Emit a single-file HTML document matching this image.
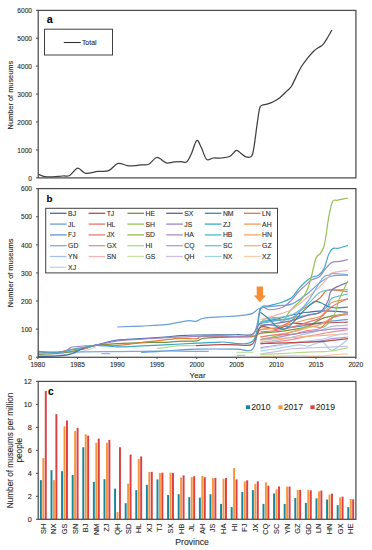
<!DOCTYPE html><html><head><meta charset="utf-8"><style>html,body{margin:0;padding:0;background:#fff;}svg{display:block;}text{font-family:"Liberation Sans", sans-serif;stroke:#333;stroke-width:0.1px;}</style></head><body>
<svg width="372" height="550" viewBox="0 0 372 550">
<rect x="0" y="0" width="372" height="550" fill="#fff"/>
<path d="M38.2,174.2 C39.63,174.65 42.68,176.6 46.8,176.9 C50.92,177.2 59.1,176.23 62.9,176 C66.7,175.77 67.13,176.8 69.6,175.5 C72.07,174.2 75.02,168.55 77.7,168.2 C80.38,167.85 82.35,172.87 85.7,173.4 C89.05,173.93 93.98,171.85 97.8,171.4 C101.62,170.95 105.23,172.03 108.6,170.7 C111.97,169.37 114.87,164.25 118,163.4 C121.13,162.55 124.4,165.23 127.4,165.6 C130.4,165.97 133.77,165.73 136,165.6 C138.23,165.47 138.67,165.03 140.8,164.8 C142.93,164.57 146.12,165.42 148.8,164.2 C151.48,162.98 153.98,157.72 156.9,157.5 C159.82,157.28 163.62,162.13 166.3,162.9 C168.98,163.67 170.55,162.33 173,162.1 C175.45,161.87 178.75,161.5 181,161.5 C183.25,161.5 184.78,163.35 186.5,162.1 C188.22,160.85 189.6,157.58 191.3,154 C193,150.42 195.05,141.72 196.7,140.6 C198.35,139.48 199.55,144.17 201.2,147.3 C202.85,150.43 204.58,157.62 206.6,159.4 C208.62,161.18 210.83,158.23 213.3,158 C215.77,157.77 218.62,158.3 221.4,158 C224.18,157.7 227.52,157.47 230,156.2 C232.48,154.93 234.45,150.83 236.3,150.4 C238.15,149.97 239.48,152.52 241.1,153.6 C242.72,154.68 244.25,156.47 246,156.9 C247.75,157.33 250.27,157.87 251.6,156.2 C252.93,154.53 253.05,152.48 254,146.9 C254.95,141.32 256.35,129.17 257.3,122.7 C258.25,116.23 258.9,111.02 259.7,108.1 C260.5,105.18 260.9,105.87 262.1,105.2 C263.3,104.53 265.02,104.68 266.9,104.1 C268.78,103.52 271.25,102.77 273.4,101.7 C275.55,100.63 277.62,99.42 279.8,97.7 C281.98,95.98 284.58,93.27 286.5,91.4 C288.42,89.53 289.7,88.92 291.3,86.5 C292.9,84.08 294.48,80.12 296.1,76.9 C297.72,73.68 299.12,70.3 301,67.2 C302.88,64.1 305.25,61 307.4,58.3 C309.55,55.6 312.02,52.8 313.9,51 C315.78,49.2 317.23,48.52 318.7,47.5 C320.17,46.48 321.35,46.33 322.7,44.9 C324.05,43.47 325.27,41.37 326.8,38.9 C328.33,36.43 331.05,31.57 331.9,30.1" fill="none" stroke="#404040" stroke-width="1.25" stroke-linejoin="round"/>
<rect x="38.2" y="10.4" width="317.7" height="167.5" fill="none" stroke="#4d4d4d" stroke-width="1.25"/>
<line x1="36" y1="177.8" x2="38.2" y2="177.8" stroke="#4d4d4d" stroke-width="1"/>
<text x="32" y="180.5" font-size="6.6" text-anchor="end" font-weight="normal" fill="#262626" >0</text>
<line x1="36" y1="149.88" x2="38.2" y2="149.88" stroke="#4d4d4d" stroke-width="1"/>
<text x="32" y="152.58" font-size="6.6" text-anchor="end" font-weight="normal" fill="#262626" >1000</text>
<line x1="36" y1="121.97" x2="38.2" y2="121.97" stroke="#4d4d4d" stroke-width="1"/>
<text x="32" y="124.67" font-size="6.6" text-anchor="end" font-weight="normal" fill="#262626" >2000</text>
<line x1="36" y1="94.05" x2="38.2" y2="94.05" stroke="#4d4d4d" stroke-width="1"/>
<text x="32" y="96.75" font-size="6.6" text-anchor="end" font-weight="normal" fill="#262626" >3000</text>
<line x1="36" y1="66.13" x2="38.2" y2="66.13" stroke="#4d4d4d" stroke-width="1"/>
<text x="32" y="68.83" font-size="6.6" text-anchor="end" font-weight="normal" fill="#262626" >4000</text>
<line x1="36" y1="38.22" x2="38.2" y2="38.22" stroke="#4d4d4d" stroke-width="1"/>
<text x="32" y="40.92" font-size="6.6" text-anchor="end" font-weight="normal" fill="#262626" >5000</text>
<line x1="36" y1="10.3" x2="38.2" y2="10.3" stroke="#4d4d4d" stroke-width="1"/>
<text x="32" y="13" font-size="6.6" text-anchor="end" font-weight="normal" fill="#262626" >6000</text>
<text x="46.8" y="22.6" font-size="10.8" text-anchor="start" font-weight="bold" fill="#000" >a</text>
<rect x="44.5" y="29.2" width="68" height="25.8" fill="#fff" stroke="#404040" stroke-width="1"/>
<line x1="63.8" y1="42.5" x2="80.8" y2="42.5" stroke="#333" stroke-width="1.1"/>
<text x="81.9" y="44.7" font-size="6.95" text-anchor="start" font-weight="normal" fill="#262626" >Total</text>
<text transform="translate(13.3,95.1) rotate(-90)" font-size="7.4" text-anchor="middle" fill="#262626">Number of museums</text>
<path d="M37.8,355.8 C41.77,355.66 55.69,355.33 61.65,354.95 C67.61,354.58 69.6,354.3 73.57,353.55 C77.55,352.8 81.79,351.54 85.5,350.46 C89.21,349.38 94.11,347.65 95.83,347.09" fill="none" stroke="#c3d0ee" stroke-width="1.2" stroke-linejoin="round" stroke-linecap="butt"/>
<path d="M63.24,352.14 C66.95,352.1 76.49,351.96 85.5,351.86 C94.51,351.77 108.03,351.68 117.3,351.58 C126.57,351.49 133.2,351.4 141.15,351.3 C149.1,351.21 157.05,351.02 165,351.02 C172.95,351.02 181.56,351.26 188.85,351.3 C196.14,351.35 205.41,351.3 208.73,351.3" fill="none" stroke="#7eabdf" stroke-width="1.2" stroke-linejoin="round" stroke-linecap="butt"/>
<path d="M101.4,353.61 C102.86,353.61 108.69,353.61 110.14,353.61" fill="none" stroke="#8fb3e0" stroke-width="1.2" stroke-linejoin="round" stroke-linecap="butt"/>
<path d="M157.05,348.49 C159.17,348.21 165.79,347.28 169.77,346.81 C173.74,346.34 176.53,345.87 180.9,345.69 C185.27,345.5 193.49,345.69 196.01,345.69" fill="none" stroke="#b6da8c" stroke-width="1.2" stroke-linejoin="round" stroke-linecap="butt"/>
<path d="M236.55,352.31 C237.88,352.31 241.72,352.29 244.5,352.31 C247.28,352.33 251.79,352.41 253.24,352.43" fill="none" stroke="#c8e2a9" stroke-width="1.2" stroke-linejoin="round" stroke-linecap="butt"/>
<path d="M236.55,355.4 C238.01,355.4 243.84,355.4 245.29,355.4" fill="none" stroke="#a7c0e6" stroke-width="1.2" stroke-linejoin="round" stroke-linecap="butt"/>
<path d="M37.8,354.39 C42.04,354.16 56.35,353.76 63.24,352.99 C70.13,352.22 75.43,350.51 79.14,349.76 C82.85,349.01 82.72,349.22 85.5,348.49 C88.28,347.77 90.53,346.2 95.83,345.4 C101.13,344.61 109.75,344.19 117.3,343.72 C124.85,343.25 133.2,342.83 141.15,342.6 C149.1,342.36 158.38,342.55 165,342.32 C171.62,342.08 175.6,341.43 180.9,341.19 C186.2,340.96 192.83,341.43 196.8,340.91 C200.78,340.4 198.12,338.76 204.75,338.1 C211.38,337.45 228.6,337.21 236.55,336.98 C244.5,336.75 248.47,337.31 252.45,336.7 C256.42,336.09 256.42,334.12 260.4,333.33 C264.38,332.53 271,332.53 276.3,331.93 C281.6,331.32 286.9,330.61 292.2,329.68 C297.5,328.74 302.8,328.27 308.1,326.31 C313.4,324.34 317.38,319.99 324,317.88 C330.62,315.78 343.88,314.37 347.85,313.67" fill="none" stroke="#77933c" stroke-width="1.2" stroke-linejoin="round" stroke-linecap="butt"/>
<path d="M37.8,351.02 C40.45,351.35 48.4,353.2 53.7,352.99 C59,352.78 64.3,350.51 69.6,349.76 C74.9,349.01 81.13,349.22 85.5,348.49 C89.87,347.77 90.53,345.92 95.83,345.4 C101.13,344.89 109.75,345.87 117.3,345.4 C124.85,344.94 133.2,343.53 141.15,342.6 C149.1,341.66 158.38,340.49 165,339.79 C171.62,339.09 175.6,338.57 180.9,338.38 C186.2,338.2 192.83,339.04 196.8,338.66 C200.78,338.29 195.47,336.56 204.75,336.14 C214.03,335.72 243.17,337.21 252.45,336.14 C261.72,335.06 256.42,331.08 260.4,329.68 C264.38,328.27 271,329.26 276.3,327.71 C281.6,326.17 288.22,323.22 292.2,320.41 C296.18,317.6 297.5,313.25 300.15,310.86 C302.8,308.48 304.79,308.24 308.1,306.09 C311.41,303.94 316.71,300.61 320.03,297.94 C323.34,295.28 323.34,291.11 327.98,290.08 C332.61,289.05 344.54,291.49 347.85,291.77" fill="none" stroke="#e07b39" stroke-width="1.2" stroke-linejoin="round" stroke-linecap="butt"/>
<path d="M37.8,356.53 C40.45,356.45 48.4,356.43 53.7,356.08 C59,355.72 64.3,355.84 69.6,354.39 C74.9,352.94 81.13,348.92 85.5,347.37 C89.87,345.83 90.53,346.34 95.83,345.12 C101.13,343.91 109.75,341.15 117.3,340.07 C124.85,338.99 133.2,339.18 141.15,338.66 C149.1,338.15 158.38,337.49 165,336.98 C171.62,336.47 175.6,335.9 180.9,335.58 C186.2,335.25 187.53,335.15 196.8,335.01 C206.08,334.87 227.28,334.87 236.55,334.73 C245.83,334.59 248.47,336.14 252.45,334.17 C256.42,332.21 256.42,325.42 260.4,322.94 C264.38,320.46 271,320.64 276.3,319.29 C281.6,317.93 286.9,315.96 292.2,314.79 C297.5,313.62 302.8,312.92 308.1,312.27 C313.4,311.61 317.38,310.86 324,310.86 C330.62,310.86 343.88,312.03 347.85,312.27" fill="none" stroke="#3f6fa8" stroke-width="1.2" stroke-linejoin="round" stroke-linecap="butt"/>
<path d="M37.8,352.99 C42.04,352.8 57.68,352.8 63.24,351.86 C68.81,350.93 67.48,348.35 71.19,347.37 C74.9,346.39 81.39,346.34 85.5,345.97 C89.61,345.59 90.53,345.97 95.83,345.12 C101.13,344.28 109.75,341.89 117.3,340.91 C124.85,339.93 133.2,339.79 141.15,339.23 C149.1,338.66 158.38,337.92 165,337.54 C171.62,337.17 175.6,337.17 180.9,336.98 C186.2,336.79 190.18,336.61 196.8,336.42 C203.43,336.23 211.37,336.14 220.65,335.86 C229.92,335.58 245.82,339.32 252.45,334.73 C259.07,330.15 257.62,312.5 260.4,308.33 C263.18,304.17 265.43,309.93 269.14,309.74 C272.85,309.55 279.08,308.66 282.66,307.21 C286.24,305.76 287.96,303.61 290.61,301.03 C293.26,298.46 296.17,294.29 298.56,291.77 C300.94,289.24 302.8,287.83 304.92,285.87 C307.04,283.9 308.9,281.47 311.28,279.97 C313.67,278.47 316.98,278.61 319.23,276.88 C321.48,275.15 322.67,272.01 324.79,269.58 C326.91,267.15 329.43,263.64 331.95,262.28 C334.47,260.92 337.25,261.9 339.9,261.44 C342.55,260.97 346.53,259.8 347.85,259.47" fill="none" stroke="#9f86c6" stroke-width="1.2" stroke-linejoin="round" stroke-linecap="butt"/>
<path d="M141.15,352.31 C143.8,352.19 153.08,351.8 157.05,351.58 C161.03,351.37 161.03,351.3 165,351.02 C168.97,350.74 175.6,350.23 180.9,349.9 C186.2,349.57 187.53,349.2 196.8,349.06 C206.08,348.92 227.28,349.01 236.55,349.06 C245.83,349.1 248.47,353.13 252.45,349.34 C256.42,345.55 256.42,330.24 260.4,326.31 C264.38,322.38 271,325.61 276.3,325.75 C281.6,325.89 286.9,327.29 292.2,327.15 C297.5,327.01 302.8,325.75 308.1,324.9 C313.4,324.06 317.38,323.03 324,322.1 C330.62,321.16 343.88,319.76 347.85,319.29" fill="none" stroke="#5d99d6" stroke-width="1.2" stroke-linejoin="round" stroke-linecap="butt"/>
<path d="M196.01,345.69 C200.11,345.5 213.89,344.7 220.65,344.56 C227.41,344.42 231.25,344.94 236.55,344.84 C241.85,344.75 248.47,346.95 252.45,344 C256.42,341.05 256.42,329.63 260.4,327.15 C264.38,324.67 271,329.73 276.3,329.12 C281.6,328.51 286.9,324.34 292.2,323.5 C297.5,322.66 302.8,324.16 308.1,324.06 C313.4,323.97 317.38,323.27 324,322.94 C330.62,322.61 343.88,322.24 347.85,322.1" fill="none" stroke="#b94a4a" stroke-width="1.2" stroke-linejoin="round" stroke-linecap="butt"/>
<path d="M37.8,351.86 C41.77,351.86 55.29,352.43 61.65,351.86 C68.01,351.3 71.98,349.24 75.96,348.49 C79.93,347.75 82.19,347.89 85.5,347.37 C88.81,346.86 90.53,345.5 95.83,345.4 C101.13,345.31 109.75,346.72 117.3,346.81 C124.85,346.9 133.2,346.29 141.15,345.97 C149.1,345.64 155.72,345.31 165,344.84 C174.28,344.38 187.53,343.63 196.8,343.16 C206.08,342.69 211.37,342.36 220.65,342.03 C229.92,341.71 245.82,346.62 252.45,341.19 C259.07,335.76 257.75,315.36 260.4,309.46 C263.05,303.56 265.17,306.88 268.35,305.81 C271.53,304.73 275.64,304.36 279.48,303 C283.32,301.64 288.23,300 291.41,297.66 C294.59,295.32 296.31,291.53 298.56,288.96 C300.81,286.38 302.8,284.14 304.92,282.22 C307.04,280.3 309.03,278.61 311.28,277.44 C313.53,276.27 316.31,276.65 318.43,275.2 C320.55,273.75 322.28,272.25 324,268.74 C325.72,265.23 327.31,257.5 328.77,254.13 C330.23,250.76 331.15,249.5 332.74,248.52 C334.33,247.53 335.79,248.75 338.31,248.24 C340.83,247.72 346.26,245.9 347.85,245.43" fill="none" stroke="#3aa9c5" stroke-width="1.2" stroke-linejoin="round" stroke-linecap="butt"/>
<path d="M117.3,327.01 C121.27,326.85 133.07,326.41 141.15,326.03 C149.23,325.64 158.11,325.58 165.79,324.71 C173.48,323.84 182.22,321.36 187.26,320.8 C192.29,320.25 193.62,321.74 196.01,321.39 C198.39,321.05 199.18,319.39 201.57,318.73 C203.95,318.06 205.81,317.78 210.32,317.41 C214.82,317.03 222.9,316.87 228.6,316.48 C234.3,316.09 240.53,315.59 244.5,315.07 C248.47,314.56 249.8,314.56 252.45,313.39 C255.1,312.22 256.42,309.32 260.4,308.05 C264.38,306.79 271,306.51 276.3,305.81 C281.6,305.11 286.9,305.95 292.2,303.84 C297.5,301.74 303.46,296.73 308.1,293.17 C312.74,289.61 316.05,285.35 320.03,282.5 C324,279.64 327.31,277.26 331.95,276.04 C336.59,274.82 345.2,275.34 347.85,275.2" fill="none" stroke="#6b9fd6" stroke-width="1.2" stroke-linejoin="round" stroke-linecap="butt"/>
<path d="M260.4,326.31 C261.06,325.14 261.73,320.69 264.38,319.29 C267.02,317.88 273.25,317.46 276.3,317.88 C279.35,318.3 280.41,322.94 282.66,321.81 C284.91,320.69 286.64,314.93 289.82,311.14 C293,307.35 298.83,302.62 301.74,299.07 C304.66,295.51 305.72,293.5 307.31,289.8 C308.9,286.1 309.82,282.17 311.28,276.88 C312.74,271.59 314.59,261.9 316.05,258.07 C317.51,254.23 318.7,255.82 320.03,253.85 C321.35,251.89 322.94,249.73 324,246.27 C325.06,242.81 325.59,237.99 326.38,233.07 C327.18,228.16 327.71,222.07 328.77,216.78 C329.83,211.49 331.29,204.1 332.74,201.34 C334.2,198.58 335,200.78 337.52,200.21 C340.03,199.65 346.13,198.34 347.85,197.97" fill="none" stroke="#93c152" stroke-width="1.2" stroke-linejoin="round" stroke-linecap="butt"/>
<path d="M260.4,319.57 C263.05,318.82 271,316.81 276.3,315.07 C281.6,313.34 286.9,312.22 292.2,309.18 C297.5,306.14 303.46,300.61 308.1,296.82 C312.74,293.03 316.58,289.75 320.03,286.43 C323.47,283.11 326.65,279.18 328.77,276.88 C330.89,274.59 329.56,273.75 332.74,272.67 C335.92,271.59 345.33,270.8 347.85,270.42" fill="none" stroke="#f2b4b4" stroke-width="1.2" stroke-linejoin="round" stroke-linecap="butt"/>
<path d="M260.4,322.1 C263.05,321.77 271,320.83 276.3,320.13 C281.6,319.43 286.9,321.07 292.2,317.88 C297.5,314.7 303.07,307.63 308.1,301.03 C313.13,294.43 318.96,282.59 322.41,278.29 C325.85,273.98 326.91,275.99 328.77,275.2 C330.62,274.4 330.36,273.61 333.54,273.51 C336.72,273.42 345.47,274.45 347.85,274.63" fill="none" stroke="#7eabdf" stroke-width="1.2" stroke-linejoin="round" stroke-linecap="butt"/>
<path d="M260.4,322.1 C263.05,321.39 271,319.1 276.3,317.88 C281.6,316.67 286.9,317.13 292.2,314.79 C297.5,312.45 303.46,307.59 308.1,303.84 C312.74,300.1 316.05,294.67 320.03,292.33 C324,289.99 327.31,290.27 331.95,289.8 C336.59,289.33 345.2,289.57 347.85,289.52" fill="none" stroke="#6bc2d8" stroke-width="1.2" stroke-linejoin="round" stroke-linecap="butt"/>
<path d="M260.4,323.5 C263.05,323.03 271,321.63 276.3,320.69 C281.6,319.76 286.9,318.82 292.2,317.88 C297.5,316.95 303.46,315.92 308.1,315.07 C312.74,314.23 316.71,314.47 320.03,312.83 C323.34,311.19 325.99,307.68 327.98,305.25 C329.96,302.81 328.64,300.1 331.95,298.22 C335.26,296.35 345.2,294.71 347.85,294.01" fill="none" stroke="#52b6cf" stroke-width="1.2" stroke-linejoin="round" stroke-linecap="butt"/>
<path d="M260.4,325.75 C263.05,325.37 271,324.39 276.3,323.5 C281.6,322.61 286.9,321.81 292.2,320.41 C297.5,319.01 303.46,316.43 308.1,315.07 C312.74,313.72 316.71,314.61 320.03,312.27 C323.34,309.93 325.99,304.78 327.98,301.03 C329.96,297.29 328.64,292.94 331.95,289.8 C335.26,286.66 345.2,283.48 347.85,282.22" fill="none" stroke="#8a72b5" stroke-width="1.2" stroke-linejoin="round" stroke-linecap="butt"/>
<path d="M260.4,329.68 C263.05,329.35 271,328.74 276.3,327.71 C281.6,326.68 286.9,324.9 292.2,323.5 C297.5,322.1 303.46,320.46 308.1,319.29 C312.74,318.12 316.71,318.35 320.03,316.48 C323.34,314.61 325.99,310.39 327.98,308.05 C329.96,305.71 328.64,303.94 331.95,302.44 C335.26,300.94 345.2,299.63 347.85,299.07" fill="none" stroke="#f4995a" stroke-width="1.2" stroke-linejoin="round" stroke-linecap="butt"/>
<path d="M260.4,331.93 C263.05,331.69 271,331.32 276.3,330.52 C281.6,329.73 286.9,328.55 292.2,327.15 C297.5,325.75 303.46,323.64 308.1,322.1 C312.74,320.55 316.05,320.46 320.03,317.88 C324,315.31 327.31,309.88 331.95,306.65 C336.59,303.42 345.2,299.86 347.85,298.51" fill="none" stroke="#e07575" stroke-width="1.2" stroke-linejoin="round" stroke-linecap="butt"/>
<path d="M260.4,312.27 C261.72,313.3 265.7,316.1 268.35,318.44 C271,320.79 273.65,324.53 276.3,326.31 C278.95,328.09 281.6,329.58 284.25,329.12 C286.9,328.65 289.55,325.93 292.2,323.5 C294.85,321.07 297.5,317.32 300.15,314.51 C302.8,311.7 305.72,308.8 308.1,306.65 C310.48,304.5 312.34,302.25 314.46,301.59 C316.58,300.94 318.7,301.97 320.82,302.72 C322.94,303.47 325.06,305.25 327.18,306.09 C329.3,306.93 330.1,307.59 333.54,307.77 C336.99,307.96 345.47,307.31 347.85,307.21" fill="none" stroke="#2f8fae" stroke-width="1.2" stroke-linejoin="round" stroke-linecap="butt"/>
<path d="M260.4,339.51 C263.05,338.95 271,337.4 276.3,336.14 C281.6,334.87 286.9,333.56 292.2,331.93 C297.5,330.29 302.8,327.15 308.1,326.31 C313.4,325.47 319.63,328.84 324,326.87 C328.37,324.9 331.82,319.05 334.33,314.51 C336.85,309.97 336.85,305.25 339.11,299.63 C341.36,294.01 346.39,283.95 347.85,280.81" fill="none" stroke="#9bc15c" stroke-width="1.2" stroke-linejoin="round" stroke-linecap="butt"/>
<path d="M260.4,336.98 C263.05,336.61 271,335.58 276.3,334.73 C281.6,333.89 286.9,333.1 292.2,331.93 C297.5,330.75 303.46,328.93 308.1,327.71 C312.74,326.5 316.05,326.26 320.03,324.62 C324,322.99 327.31,319.8 331.95,317.88 C336.59,315.96 345.2,313.9 347.85,313.11" fill="none" stroke="#f7a466" stroke-width="1.2" stroke-linejoin="round" stroke-linecap="butt"/>
<path d="M260.4,336.98 C263.05,336.61 271,335.15 276.3,334.73 C281.6,334.31 286.9,335.15 292.2,334.45 C297.5,333.75 303.46,331.5 308.1,330.52 C312.74,329.54 316.05,330.66 320.03,328.56 C324,326.45 327.31,320.22 331.95,317.88 C336.59,315.54 345.2,315.07 347.85,314.51" fill="none" stroke="#e67d7d" stroke-width="1.2" stroke-linejoin="round" stroke-linecap="butt"/>
<path d="M260.4,342.03 C263.05,341.75 271,341.19 276.3,340.35 C281.6,339.51 286.9,338.15 292.2,336.98 C297.5,335.81 303.46,334.41 308.1,333.33 C312.74,332.25 316.05,331.69 320.03,330.52 C324,329.35 327.31,327.2 331.95,326.31 C336.59,325.42 345.2,325.37 347.85,325.19" fill="none" stroke="#a7c0e6" stroke-width="1.2" stroke-linejoin="round" stroke-linecap="butt"/>
<path d="M260.4,339.51 C263.05,339.18 271,338.38 276.3,337.54 C281.6,336.7 286.9,335.39 292.2,334.45 C297.5,333.52 303.46,332.58 308.1,331.93 C312.74,331.27 316.05,330.99 320.03,330.52 C324,330.05 327.31,329.49 331.95,329.12 C336.59,328.74 345.2,328.41 347.85,328.27" fill="none" stroke="#a68ece" stroke-width="1.2" stroke-linejoin="round" stroke-linecap="butt"/>
<path d="M260.4,344.28 C263.05,343.86 271,342.55 276.3,341.75 C281.6,340.96 286.9,340.44 292.2,339.51 C297.5,338.57 302.8,337.17 308.1,336.14 C313.4,335.11 320.02,334.03 324,333.33 C327.98,332.63 327.97,332.53 331.95,331.93 C335.93,331.32 345.2,330.05 347.85,329.68" fill="none" stroke="#eb8e8e" stroke-width="1.2" stroke-linejoin="round" stroke-linecap="butt"/>
<path d="M260.4,347.65 C263.05,347.28 271,346.15 276.3,345.4 C281.6,344.66 286.9,343.77 292.2,343.16 C297.5,342.55 302.8,342.22 308.1,341.75 C313.4,341.29 320.02,340.86 324,340.35 C327.98,339.84 327.97,339.23 331.95,338.66 C335.93,338.1 345.2,337.26 347.85,336.98" fill="none" stroke="#b39fd7" stroke-width="1.2" stroke-linejoin="round" stroke-linecap="butt"/>
<path d="M260.4,340.35 C263.05,340.07 271,339.13 276.3,338.66 C281.6,338.2 286.9,337.92 292.2,337.54 C297.5,337.17 302.8,336.79 308.1,336.42 C313.4,336.04 320.02,335.58 324,335.29 C327.98,335.01 327.97,334.92 331.95,334.73 C335.93,334.55 345.2,334.27 347.85,334.17" fill="none" stroke="#f9b17d" stroke-width="1.2" stroke-linejoin="round" stroke-linecap="butt"/>
<path d="M260.4,348.77 C263.05,348.31 271,346.9 276.3,345.97 C281.6,345.03 286.9,344 292.2,343.16 C297.5,342.32 302.8,341.61 308.1,340.91 C313.4,340.21 320.02,339.74 324,338.95 C327.98,338.15 327.97,337.07 331.95,336.14 C335.93,335.2 345.2,333.8 347.85,333.33" fill="none" stroke="#c3d0ee" stroke-width="1.2" stroke-linejoin="round" stroke-linecap="butt"/>
<path d="M260.4,351.02 C263.05,350.65 269.94,349.8 276.3,348.77 C282.66,347.75 293.13,345.31 298.56,344.84 C303.99,344.38 304.92,346.43 308.89,345.97 C312.87,345.5 318.57,341.33 322.41,342.03 C326.25,342.74 327.71,350.6 331.95,350.18 C336.19,349.76 345.2,341.29 347.85,339.51" fill="none" stroke="#9ed5e4" stroke-width="1.2" stroke-linejoin="round" stroke-linecap="butt"/>
<path d="M260.4,353.83 C263.05,353.46 271,352.43 276.3,351.58 C281.6,350.74 286.9,349.38 292.2,348.77 C297.5,348.17 302.8,348.17 308.1,347.93 C313.4,347.7 320.02,347.56 324,347.37 C327.98,347.18 327.97,347 331.95,346.81 C335.93,346.62 345.2,346.34 347.85,346.25" fill="none" stroke="#cbbde3" stroke-width="1.2" stroke-linejoin="round" stroke-linecap="butt"/>
<path d="M260.4,354.39 C263.05,354.3 271,354.06 276.3,353.83 C281.6,353.6 286.9,353.27 292.2,352.99 C297.5,352.71 302.8,352.38 308.1,352.14 C313.4,351.91 320.02,351.77 324,351.58 C327.98,351.4 327.97,351.68 331.95,351.02 C335.93,350.37 345.2,348.21 347.85,347.65" fill="none" stroke="#b6da8c" stroke-width="1.2" stroke-linejoin="round" stroke-linecap="butt"/>
<path d="M260.4,343.44 C263.05,343.39 271,343.3 276.3,343.16 C281.6,343.02 286.9,342.78 292.2,342.6 C297.5,342.41 302.8,342.22 308.1,342.03 C313.4,341.85 320.02,341.75 324,341.47 C327.98,341.19 327.97,340.82 331.95,340.35 C335.93,339.88 345.2,338.95 347.85,338.66" fill="none" stroke="#b94a4a" stroke-width="1.2" stroke-linejoin="round" stroke-linecap="butt"/>
<path d="M260.4,356.36 C263.05,356.31 271,356.22 276.3,356.08 C281.6,355.94 284.91,355.51 292.2,355.51 C299.49,355.51 313.4,356.17 320.03,356.08 C326.65,355.98 327.31,355.33 331.95,354.95 C336.59,354.58 345.2,354.02 347.85,353.83" fill="none" stroke="#fbcaa6" stroke-width="1.2" stroke-linejoin="round" stroke-linecap="butt"/>
<rect x="38.2" y="188.6" width="317.7" height="168.70000000000002" fill="none" stroke="#4d4d4d" stroke-width="1.25"/>
<line x1="36" y1="357.2" x2="38.2" y2="357.2" stroke="#4d4d4d" stroke-width="1"/>
<text x="32" y="359.9" font-size="6.6" text-anchor="end" font-weight="normal" fill="#262626" >0</text>
<line x1="36" y1="329.12" x2="38.2" y2="329.12" stroke="#4d4d4d" stroke-width="1"/>
<text x="32" y="331.82" font-size="6.6" text-anchor="end" font-weight="normal" fill="#262626" >100</text>
<line x1="36" y1="301.03" x2="38.2" y2="301.03" stroke="#4d4d4d" stroke-width="1"/>
<text x="32" y="303.73" font-size="6.6" text-anchor="end" font-weight="normal" fill="#262626" >200</text>
<line x1="36" y1="272.95" x2="38.2" y2="272.95" stroke="#4d4d4d" stroke-width="1"/>
<text x="32" y="275.65" font-size="6.6" text-anchor="end" font-weight="normal" fill="#262626" >300</text>
<line x1="36" y1="244.87" x2="38.2" y2="244.87" stroke="#4d4d4d" stroke-width="1"/>
<text x="32" y="247.57" font-size="6.6" text-anchor="end" font-weight="normal" fill="#262626" >400</text>
<line x1="36" y1="216.78" x2="38.2" y2="216.78" stroke="#4d4d4d" stroke-width="1"/>
<text x="32" y="219.48" font-size="6.6" text-anchor="end" font-weight="normal" fill="#262626" >500</text>
<line x1="36" y1="188.7" x2="38.2" y2="188.7" stroke="#4d4d4d" stroke-width="1"/>
<text x="32" y="191.4" font-size="6.6" text-anchor="end" font-weight="normal" fill="#262626" >600</text>
<line x1="37.8" y1="357.2" x2="37.8" y2="359.0" stroke="#4d4d4d" stroke-width="1"/>
<text x="37.8" y="366.7" font-size="6.6" text-anchor="middle" font-weight="normal" fill="#262626" >1980</text>
<line x1="77.55" y1="357.2" x2="77.55" y2="359.0" stroke="#4d4d4d" stroke-width="1"/>
<text x="77.55" y="366.7" font-size="6.6" text-anchor="middle" font-weight="normal" fill="#262626" >1985</text>
<line x1="117.3" y1="357.2" x2="117.3" y2="359.0" stroke="#4d4d4d" stroke-width="1"/>
<text x="117.3" y="366.7" font-size="6.6" text-anchor="middle" font-weight="normal" fill="#262626" >1990</text>
<line x1="157.05" y1="357.2" x2="157.05" y2="359.0" stroke="#4d4d4d" stroke-width="1"/>
<text x="157.05" y="366.7" font-size="6.6" text-anchor="middle" font-weight="normal" fill="#262626" >1995</text>
<line x1="196.8" y1="357.2" x2="196.8" y2="359.0" stroke="#4d4d4d" stroke-width="1"/>
<text x="196.8" y="366.7" font-size="6.6" text-anchor="middle" font-weight="normal" fill="#262626" >2000</text>
<line x1="236.55" y1="357.2" x2="236.55" y2="359.0" stroke="#4d4d4d" stroke-width="1"/>
<text x="236.55" y="366.7" font-size="6.6" text-anchor="middle" font-weight="normal" fill="#262626" >2005</text>
<line x1="276.3" y1="357.2" x2="276.3" y2="359.0" stroke="#4d4d4d" stroke-width="1"/>
<text x="276.3" y="366.7" font-size="6.6" text-anchor="middle" font-weight="normal" fill="#262626" >2010</text>
<line x1="316.05" y1="357.2" x2="316.05" y2="359.0" stroke="#4d4d4d" stroke-width="1"/>
<text x="316.05" y="366.7" font-size="6.6" text-anchor="middle" font-weight="normal" fill="#262626" >2015</text>
<line x1="355.8" y1="357.2" x2="355.8" y2="359.0" stroke="#4d4d4d" stroke-width="1"/>
<text x="355.8" y="366.7" font-size="6.6" text-anchor="middle" font-weight="normal" fill="#262626" >2020</text>
<text x="189.6" y="378.4" font-size="7.9" text-anchor="start" font-weight="normal" fill="#262626" >Year</text>
<text x="46.4" y="201.9" font-size="9.8" text-anchor="start" font-weight="bold" fill="#000" >b</text>
<text transform="translate(13.3,272.9) rotate(-90)" font-size="7.4" text-anchor="middle" fill="#262626">Number of museums</text>
<rect x="45.7" y="208.3" width="231.8" height="64.6" fill="#fff" stroke="#404040" stroke-width="1"/>
<line x1="50" y1="213.3" x2="66.6" y2="213.3" stroke="#3f6fa8" stroke-width="1.3"/>
<text x="68.1" y="215.8" font-size="6.8" text-anchor="start" font-weight="normal" fill="#262626" >BJ</text>
<line x1="50" y1="224.1" x2="66.6" y2="224.1" stroke="#6b9fd6" stroke-width="1.3"/>
<text x="68.1" y="226.6" font-size="6.8" text-anchor="start" font-weight="normal" fill="#262626" >JL</text>
<line x1="50" y1="234.9" x2="66.6" y2="234.9" stroke="#5d99d6" stroke-width="1.3"/>
<text x="68.1" y="237.4" font-size="6.8" text-anchor="start" font-weight="normal" fill="#262626" >FJ</text>
<line x1="50" y1="245.7" x2="66.6" y2="245.7" stroke="#7eabdf" stroke-width="1.3"/>
<text x="68.1" y="248.2" font-size="6.8" text-anchor="start" font-weight="normal" fill="#262626" >GD</text>
<line x1="50" y1="256.5" x2="66.6" y2="256.5" stroke="#a7c0e6" stroke-width="1.3"/>
<text x="68.1" y="259" font-size="6.8" text-anchor="start" font-weight="normal" fill="#262626" >YN</text>
<line x1="50" y1="267.3" x2="66.6" y2="267.3" stroke="#c3d0ee" stroke-width="1.3"/>
<text x="68.1" y="269.8" font-size="6.8" text-anchor="start" font-weight="normal" fill="#262626" >XJ</text>
<line x1="88.6" y1="213.3" x2="105.2" y2="213.3" stroke="#b94a4a" stroke-width="1.3"/>
<text x="106.7" y="215.8" font-size="6.8" text-anchor="start" font-weight="normal" fill="#262626" >TJ</text>
<line x1="88.6" y1="224.1" x2="105.2" y2="224.1" stroke="#e07575" stroke-width="1.3"/>
<text x="106.7" y="226.6" font-size="6.8" text-anchor="start" font-weight="normal" fill="#262626" >HL</text>
<line x1="88.6" y1="234.9" x2="105.2" y2="234.9" stroke="#e67d7d" stroke-width="1.3"/>
<text x="106.7" y="237.4" font-size="6.8" text-anchor="start" font-weight="normal" fill="#262626" >JX</text>
<line x1="88.6" y1="245.7" x2="105.2" y2="245.7" stroke="#eb8e8e" stroke-width="1.3"/>
<text x="106.7" y="248.2" font-size="6.8" text-anchor="start" font-weight="normal" fill="#262626" >GX</text>
<line x1="88.6" y1="256.5" x2="105.2" y2="256.5" stroke="#f2b4b4" stroke-width="1.3"/>
<text x="106.7" y="259" font-size="6.8" text-anchor="start" font-weight="normal" fill="#262626" >SN</text>
<line x1="127.4" y1="213.3" x2="144" y2="213.3" stroke="#77933c" stroke-width="1.3"/>
<text x="145.5" y="215.8" font-size="6.8" text-anchor="start" font-weight="normal" fill="#262626" >HE</text>
<line x1="127.4" y1="224.1" x2="144" y2="224.1" stroke="#9bc15c" stroke-width="1.3"/>
<text x="145.5" y="226.6" font-size="6.8" text-anchor="start" font-weight="normal" fill="#262626" >SH</text>
<line x1="127.4" y1="234.9" x2="144" y2="234.9" stroke="#93c152" stroke-width="1.3"/>
<text x="145.5" y="237.4" font-size="6.8" text-anchor="start" font-weight="normal" fill="#262626" >SD</text>
<line x1="127.4" y1="245.7" x2="144" y2="245.7" stroke="#b6da8c" stroke-width="1.3"/>
<text x="145.5" y="248.2" font-size="6.8" text-anchor="start" font-weight="normal" fill="#262626" >HI</text>
<line x1="127.4" y1="256.5" x2="144" y2="256.5" stroke="#c8e2a9" stroke-width="1.3"/>
<text x="145.5" y="259" font-size="6.8" text-anchor="start" font-weight="normal" fill="#262626" >GS</text>
<line x1="166.2" y1="213.3" x2="182.8" y2="213.3" stroke="#6a5a9c" stroke-width="1.3"/>
<text x="184.3" y="215.8" font-size="6.8" text-anchor="start" font-weight="normal" fill="#262626" >SX</text>
<line x1="166.2" y1="224.1" x2="182.8" y2="224.1" stroke="#9f86c6" stroke-width="1.3"/>
<text x="184.3" y="226.6" font-size="6.8" text-anchor="start" font-weight="normal" fill="#262626" >JS</text>
<line x1="166.2" y1="234.9" x2="182.8" y2="234.9" stroke="#a68ece" stroke-width="1.3"/>
<text x="184.3" y="237.4" font-size="6.8" text-anchor="start" font-weight="normal" fill="#262626" >HA</text>
<line x1="166.2" y1="245.7" x2="182.8" y2="245.7" stroke="#b39fd7" stroke-width="1.3"/>
<text x="184.3" y="248.2" font-size="6.8" text-anchor="start" font-weight="normal" fill="#262626" >CQ</text>
<line x1="166.2" y1="256.5" x2="182.8" y2="256.5" stroke="#cbbde3" stroke-width="1.3"/>
<text x="184.3" y="259" font-size="6.8" text-anchor="start" font-weight="normal" fill="#262626" >QH</text>
<line x1="204.8" y1="213.3" x2="221.4" y2="213.3" stroke="#2f8fae" stroke-width="1.3"/>
<text x="222.9" y="215.8" font-size="6.8" text-anchor="start" font-weight="normal" fill="#262626" >NM</text>
<line x1="204.8" y1="224.1" x2="221.4" y2="224.1" stroke="#3aa9c5" stroke-width="1.3"/>
<text x="222.9" y="226.6" font-size="6.8" text-anchor="start" font-weight="normal" fill="#262626" >ZJ</text>
<line x1="204.8" y1="234.9" x2="221.4" y2="234.9" stroke="#52b6cf" stroke-width="1.3"/>
<text x="222.9" y="237.4" font-size="6.8" text-anchor="start" font-weight="normal" fill="#262626" >HB</text>
<line x1="204.8" y1="245.7" x2="221.4" y2="245.7" stroke="#6bc2d8" stroke-width="1.3"/>
<text x="222.9" y="248.2" font-size="6.8" text-anchor="start" font-weight="normal" fill="#262626" >SC</text>
<line x1="204.8" y1="256.5" x2="221.4" y2="256.5" stroke="#9ed5e4" stroke-width="1.3"/>
<text x="222.9" y="259" font-size="6.8" text-anchor="start" font-weight="normal" fill="#262626" >NX</text>
<line x1="244" y1="213.3" x2="260.6" y2="213.3" stroke="#e07b39" stroke-width="1.3"/>
<text x="262.1" y="215.8" font-size="6.8" text-anchor="start" font-weight="normal" fill="#262626" >LN</text>
<line x1="244" y1="224.1" x2="260.6" y2="224.1" stroke="#f4995a" stroke-width="1.3"/>
<text x="262.1" y="226.6" font-size="6.8" text-anchor="start" font-weight="normal" fill="#262626" >AH</text>
<line x1="244" y1="234.9" x2="260.6" y2="234.9" stroke="#f7a466" stroke-width="1.3"/>
<text x="262.1" y="237.4" font-size="6.8" text-anchor="start" font-weight="normal" fill="#262626" >HN</text>
<line x1="244" y1="245.7" x2="260.6" y2="245.7" stroke="#f9b17d" stroke-width="1.3"/>
<text x="262.1" y="248.2" font-size="6.8" text-anchor="start" font-weight="normal" fill="#262626" >GZ</text>
<line x1="244" y1="256.5" x2="260.6" y2="256.5" stroke="#fbcaa6" stroke-width="1.3"/>
<text x="262.1" y="259" font-size="6.8" text-anchor="start" font-weight="normal" fill="#262626" >XZ</text>
<path d="M256.7,286.5 H263.1 V295.5 H265.9 L259.9,302.2 L253.8,295.5 H256.7 Z" fill="#f78d36"/>
<rect x="39.9" y="480.11" width="1.95" height="39.19" fill="#17879f"/>
<rect x="42.35" y="458.05" width="1.95" height="61.25" fill="#f7963a"/>
<rect x="44.8" y="390.94" width="1.95" height="128.36" fill="#dc4045"/>
<text transform="translate(45.7,523.6) rotate(-90)" font-size="7.4" text-anchor="end" fill="#262626">SH</text>
<rect x="50.5" y="470.23" width="1.95" height="49.07" fill="#17879f"/>
<rect x="52.95" y="480.11" width="1.95" height="39.19" fill="#f7963a"/>
<rect x="55.4" y="414.15" width="1.95" height="105.15" fill="#dc4045"/>
<text transform="translate(56.3,523.6) rotate(-90)" font-size="7.4" text-anchor="end" fill="#262626">NX</text>
<rect x="61.1" y="471.15" width="1.95" height="48.15" fill="#17879f"/>
<rect x="63.55" y="426.33" width="1.95" height="92.97" fill="#f7963a"/>
<rect x="66" y="420.47" width="1.95" height="98.83" fill="#dc4045"/>
<text transform="translate(66.9,523.6) rotate(-90)" font-size="7.4" text-anchor="end" fill="#262626">GS</text>
<rect x="71.7" y="475.06" width="1.95" height="44.24" fill="#17879f"/>
<rect x="74.15" y="431.04" width="1.95" height="88.26" fill="#f7963a"/>
<rect x="76.6" y="427.83" width="1.95" height="91.47" fill="#dc4045"/>
<text transform="translate(77.5,523.6) rotate(-90)" font-size="7.4" text-anchor="end" fill="#262626">SN</text>
<rect x="82.3" y="447.25" width="1.95" height="72.05" fill="#17879f"/>
<rect x="84.75" y="434.26" width="1.95" height="85.04" fill="#f7963a"/>
<rect x="87.2" y="435.64" width="1.95" height="83.66" fill="#dc4045"/>
<text transform="translate(88.1,523.6) rotate(-90)" font-size="7.4" text-anchor="end" fill="#262626">BJ</text>
<rect x="92.9" y="481.84" width="1.95" height="37.46" fill="#17879f"/>
<rect x="95.35" y="442.77" width="1.95" height="76.53" fill="#f7963a"/>
<rect x="97.8" y="438.63" width="1.95" height="80.67" fill="#dc4045"/>
<text transform="translate(98.7,523.6) rotate(-90)" font-size="7.4" text-anchor="end" fill="#262626">NM</text>
<rect x="103.5" y="479.19" width="1.95" height="40.11" fill="#17879f"/>
<rect x="105.95" y="442.77" width="1.95" height="76.53" fill="#f7963a"/>
<rect x="108.4" y="440.01" width="1.95" height="79.29" fill="#dc4045"/>
<text transform="translate(109.3,523.6) rotate(-90)" font-size="7.4" text-anchor="end" fill="#262626">ZJ</text>
<rect x="114.1" y="488.62" width="1.95" height="30.68" fill="#17879f"/>
<rect x="116.55" y="512.06" width="1.95" height="7.24" fill="#f7963a"/>
<rect x="119" y="447.25" width="1.95" height="72.05" fill="#dc4045"/>
<text transform="translate(119.9,523.6) rotate(-90)" font-size="7.4" text-anchor="end" fill="#262626">QH</text>
<rect x="124.7" y="503.21" width="1.95" height="16.09" fill="#17879f"/>
<rect x="127.15" y="483.68" width="1.95" height="35.62" fill="#f7963a"/>
<rect x="129.6" y="454.6" width="1.95" height="64.7" fill="#dc4045"/>
<text transform="translate(130.5,523.6) rotate(-90)" font-size="7.4" text-anchor="end" fill="#262626">SD</text>
<rect x="135.3" y="490.11" width="1.95" height="29.19" fill="#17879f"/>
<rect x="137.75" y="459.08" width="1.95" height="60.22" fill="#f7963a"/>
<rect x="140.2" y="456.44" width="1.95" height="62.86" fill="#dc4045"/>
<text transform="translate(141.1,523.6) rotate(-90)" font-size="7.4" text-anchor="end" fill="#262626">HL</text>
<rect x="145.9" y="484.82" width="1.95" height="34.48" fill="#17879f"/>
<rect x="148.35" y="472.07" width="1.95" height="47.23" fill="#f7963a"/>
<rect x="150.8" y="471.84" width="1.95" height="47.46" fill="#dc4045"/>
<text transform="translate(151.7,523.6) rotate(-90)" font-size="7.4" text-anchor="end" fill="#262626">XJ</text>
<rect x="156.5" y="479.42" width="1.95" height="39.88" fill="#17879f"/>
<rect x="158.95" y="473.1" width="1.95" height="46.2" fill="#f7963a"/>
<rect x="161.4" y="472.64" width="1.95" height="46.66" fill="#dc4045"/>
<text transform="translate(162.3,523.6) rotate(-90)" font-size="7.4" text-anchor="end" fill="#262626">TJ</text>
<rect x="167.1" y="495.05" width="1.95" height="24.25" fill="#17879f"/>
<rect x="169.55" y="472.64" width="1.95" height="46.66" fill="#f7963a"/>
<rect x="172" y="472.87" width="1.95" height="46.43" fill="#dc4045"/>
<text transform="translate(172.9,523.6) rotate(-90)" font-size="7.4" text-anchor="end" fill="#262626">SX</text>
<rect x="177.7" y="494.25" width="1.95" height="25.05" fill="#17879f"/>
<rect x="180.15" y="477.47" width="1.95" height="41.83" fill="#f7963a"/>
<rect x="182.6" y="475.4" width="1.95" height="43.9" fill="#dc4045"/>
<text transform="translate(183.5,523.6) rotate(-90)" font-size="7.4" text-anchor="end" fill="#262626">HB</text>
<rect x="188.3" y="497.12" width="1.95" height="22.18" fill="#17879f"/>
<rect x="190.75" y="477.13" width="1.95" height="42.17" fill="#f7963a"/>
<rect x="193.2" y="476.21" width="1.95" height="43.09" fill="#dc4045"/>
<text transform="translate(194.1,523.6) rotate(-90)" font-size="7.4" text-anchor="end" fill="#262626">JL</text>
<rect x="198.9" y="497.7" width="1.95" height="21.6" fill="#17879f"/>
<rect x="201.35" y="475.86" width="1.95" height="43.44" fill="#f7963a"/>
<rect x="203.8" y="477.13" width="1.95" height="42.17" fill="#dc4045"/>
<text transform="translate(204.7,523.6) rotate(-90)" font-size="7.4" text-anchor="end" fill="#262626">AH</text>
<rect x="209.5" y="494.25" width="1.95" height="25.05" fill="#17879f"/>
<rect x="211.95" y="478.27" width="1.95" height="41.03" fill="#f7963a"/>
<rect x="214.4" y="477.93" width="1.95" height="41.37" fill="#dc4045"/>
<text transform="translate(215.3,523.6) rotate(-90)" font-size="7.4" text-anchor="end" fill="#262626">JS</text>
<rect x="220.1" y="503.9" width="1.95" height="15.4" fill="#17879f"/>
<rect x="222.55" y="478.73" width="1.95" height="40.57" fill="#f7963a"/>
<rect x="225" y="477.93" width="1.95" height="41.37" fill="#dc4045"/>
<text transform="translate(225.9,523.6) rotate(-90)" font-size="7.4" text-anchor="end" fill="#262626">HA</text>
<rect x="230.7" y="507.12" width="1.95" height="12.18" fill="#17879f"/>
<rect x="233.15" y="468.05" width="1.95" height="51.25" fill="#f7963a"/>
<rect x="235.6" y="479.42" width="1.95" height="39.88" fill="#dc4045"/>
<text transform="translate(236.5,523.6) rotate(-90)" font-size="7.4" text-anchor="end" fill="#262626">HI</text>
<rect x="241.3" y="491.95" width="1.95" height="27.35" fill="#17879f"/>
<rect x="243.75" y="481.49" width="1.95" height="37.81" fill="#f7963a"/>
<rect x="246.2" y="480.34" width="1.95" height="38.96" fill="#dc4045"/>
<text transform="translate(247.1,523.6) rotate(-90)" font-size="7.4" text-anchor="end" fill="#262626">FJ</text>
<rect x="251.9" y="490.11" width="1.95" height="29.19" fill="#17879f"/>
<rect x="254.35" y="483.91" width="1.95" height="35.39" fill="#f7963a"/>
<rect x="256.8" y="481.26" width="1.95" height="38.04" fill="#dc4045"/>
<text transform="translate(257.7,523.6) rotate(-90)" font-size="7.4" text-anchor="end" fill="#262626">JX</text>
<rect x="262.5" y="503.9" width="1.95" height="15.4" fill="#17879f"/>
<rect x="264.95" y="482.3" width="1.95" height="37" fill="#f7963a"/>
<rect x="267.4" y="485.74" width="1.95" height="33.56" fill="#dc4045"/>
<text transform="translate(268.3,523.6) rotate(-90)" font-size="7.4" text-anchor="end" fill="#262626">CQ</text>
<rect x="273.1" y="493.44" width="1.95" height="25.86" fill="#17879f"/>
<rect x="275.55" y="489.31" width="1.95" height="29.99" fill="#f7963a"/>
<rect x="278" y="486.43" width="1.95" height="32.87" fill="#dc4045"/>
<text transform="translate(278.9,523.6) rotate(-90)" font-size="7.4" text-anchor="end" fill="#262626">SC</text>
<rect x="283.7" y="503.9" width="1.95" height="15.4" fill="#17879f"/>
<rect x="286.15" y="486.55" width="1.95" height="32.75" fill="#f7963a"/>
<rect x="288.6" y="486.55" width="1.95" height="32.75" fill="#dc4045"/>
<text transform="translate(289.5,523.6) rotate(-90)" font-size="7.4" text-anchor="end" fill="#262626">YN</text>
<rect x="294.3" y="498.04" width="1.95" height="21.26" fill="#17879f"/>
<rect x="296.75" y="489.88" width="1.95" height="29.42" fill="#f7963a"/>
<rect x="299.2" y="489.88" width="1.95" height="29.42" fill="#dc4045"/>
<text transform="translate(300.1,523.6) rotate(-90)" font-size="7.4" text-anchor="end" fill="#262626">GZ</text>
<rect x="304.9" y="502.87" width="1.95" height="16.43" fill="#17879f"/>
<rect x="307.35" y="489.88" width="1.95" height="29.42" fill="#f7963a"/>
<rect x="309.8" y="490.34" width="1.95" height="28.96" fill="#dc4045"/>
<text transform="translate(310.7,523.6) rotate(-90)" font-size="7.4" text-anchor="end" fill="#262626">GD</text>
<rect x="315.5" y="498.39" width="1.95" height="20.91" fill="#17879f"/>
<rect x="317.95" y="491.38" width="1.95" height="27.92" fill="#f7963a"/>
<rect x="320.4" y="490.57" width="1.95" height="28.73" fill="#dc4045"/>
<text transform="translate(321.3,523.6) rotate(-90)" font-size="7.4" text-anchor="end" fill="#262626">LN</text>
<rect x="326.1" y="499.53" width="1.95" height="19.77" fill="#17879f"/>
<rect x="328.55" y="494.59" width="1.95" height="24.71" fill="#f7963a"/>
<rect x="331" y="493.67" width="1.95" height="25.63" fill="#dc4045"/>
<text transform="translate(331.9,523.6) rotate(-90)" font-size="7.4" text-anchor="end" fill="#262626">HN</text>
<rect x="336.7" y="505.17" width="1.95" height="14.13" fill="#17879f"/>
<rect x="339.15" y="497.47" width="1.95" height="21.83" fill="#f7963a"/>
<rect x="341.6" y="496.66" width="1.95" height="22.64" fill="#dc4045"/>
<text transform="translate(342.5,523.6) rotate(-90)" font-size="7.4" text-anchor="end" fill="#262626">GX</text>
<rect x="347.3" y="507.12" width="1.95" height="12.18" fill="#17879f"/>
<rect x="349.75" y="498.96" width="1.95" height="20.34" fill="#f7963a"/>
<rect x="352.2" y="499.3" width="1.95" height="20" fill="#dc4045"/>
<text transform="translate(353.1,523.6) rotate(-90)" font-size="7.4" text-anchor="end" fill="#262626">HE</text>
<rect x="38.2" y="381.4" width="317.7" height="137.89999999999998" fill="none" stroke="#4d4d4d" stroke-width="1.25"/>
<line x1="36" y1="519.3" x2="38.2" y2="519.3" stroke="#4d4d4d" stroke-width="1"/>
<text x="31.8" y="521.9" font-size="7.3" text-anchor="end" font-weight="normal" fill="#262626" >0</text>
<line x1="36" y1="496.32" x2="38.2" y2="496.32" stroke="#4d4d4d" stroke-width="1"/>
<text x="31.8" y="498.92" font-size="7.3" text-anchor="end" font-weight="normal" fill="#262626" >2</text>
<line x1="36" y1="473.33" x2="38.2" y2="473.33" stroke="#4d4d4d" stroke-width="1"/>
<text x="31.8" y="475.93" font-size="7.3" text-anchor="end" font-weight="normal" fill="#262626" >4</text>
<line x1="36" y1="450.35" x2="38.2" y2="450.35" stroke="#4d4d4d" stroke-width="1"/>
<text x="31.8" y="452.95" font-size="7.3" text-anchor="end" font-weight="normal" fill="#262626" >6</text>
<line x1="36" y1="427.37" x2="38.2" y2="427.37" stroke="#4d4d4d" stroke-width="1"/>
<text x="31.8" y="429.97" font-size="7.3" text-anchor="end" font-weight="normal" fill="#262626" >8</text>
<line x1="36" y1="404.38" x2="38.2" y2="404.38" stroke="#4d4d4d" stroke-width="1"/>
<text x="31.8" y="406.98" font-size="7.3" text-anchor="end" font-weight="normal" fill="#262626" >10</text>
<line x1="36" y1="381.4" x2="38.2" y2="381.4" stroke="#4d4d4d" stroke-width="1"/>
<text x="31.8" y="384" font-size="7.3" text-anchor="end" font-weight="normal" fill="#262626" >12</text>
<text x="47.9" y="394.6" font-size="10.2" text-anchor="start" font-weight="bold" fill="#000" >c</text>
<text x="175.3" y="544.5" font-size="8.6" text-anchor="start" font-weight="normal" fill="#262626" >Province</text>
<rect x="245.9" y="405.3" width="4.2" height="3.8" fill="#17879f"/>
<text x="251.3" y="410.4" font-size="8.6" text-anchor="start" font-weight="normal" fill="#262626" >2010</text>
<rect x="278.4" y="405.3" width="4.2" height="3.8" fill="#f7963a"/>
<text x="283.8" y="410.4" font-size="8.6" text-anchor="start" font-weight="normal" fill="#262626" >2017</text>
<rect x="310.4" y="405.3" width="4.2" height="3.8" fill="#dc4045"/>
<text x="315.8" y="410.4" font-size="8.6" text-anchor="start" font-weight="normal" fill="#262626" >2019</text>
<text transform="translate(12.8,450.4) rotate(-90)" font-size="8.2" text-anchor="middle" fill="#262626">Number of museums per million</text>
<text transform="translate(22.0,450.2) rotate(-90)" font-size="8.2" text-anchor="middle" fill="#262626">people</text>
</svg></body></html>
